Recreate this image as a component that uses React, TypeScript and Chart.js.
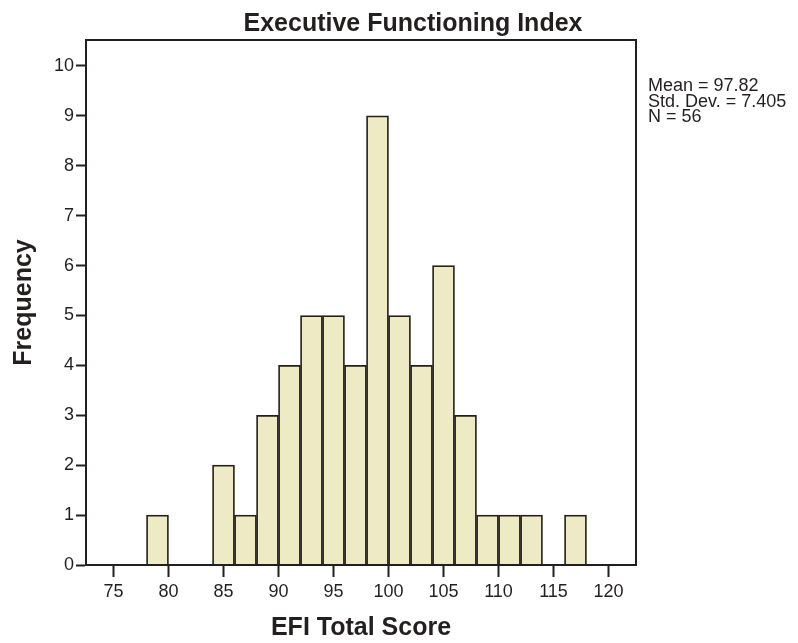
import React, { useEffect, useRef } from 'react';
import { Chart, registerables } from 'chart.js';

Chart.register(...registerables);

const binCenters = [79, 85, 87, 89, 91, 93, 95, 97, 99, 101, 103, 105, 107, 109, 111, 113, 117];
const frequencies = [1, 2, 1, 3, 4, 5, 5, 4, 9, 5, 4, 6, 3, 1, 1, 1, 1];
const xTickValues = [75, 80, 85, 90, 95, 100, 105, 110, 115, 120];
const yTickValues = [0, 1, 2, 3, 4, 5, 6, 7, 8, 9, 10];
const chartTitle = 'Executive Functioning Index';
const xAxisTitle = 'EFI Total Score';
const yAxisTitle = 'Frequency';
const statsLines = ['Mean = 97.82', 'Std. Dev. = 7.405', 'N = 56'];
const xMin = 72.5;
const xMax = 122.5;
const yMin = 0;
const yMax = 10.52;

const FONT = "'Liberation Sans', Arial, Helvetica, sans-serif";
const INK = '#231f1f';
const FILL = '#eeebc4';

const decorPlugin = {
  id: 'decor',
  afterDraw(chart: any) {
    const { ctx, chartArea } = chart;
    const { left, right, top, bottom } = chartArea;
    ctx.save();
    ctx.strokeStyle = INK;
    ctx.lineWidth = 2;
    ctx.strokeRect(left, top, right - left, bottom - top);

    ctx.fillStyle = INK;
    ctx.font = `bold 25px ${FONT}`;
    ctx.textAlign = 'center';
    ctx.textBaseline = 'alphabetic';
    ctx.fillText(chartTitle, (left + right) / 2 + 52, top - 9);

    ctx.font = `18px ${FONT}`;
    ctx.textAlign = 'left';
    statsLines.forEach((line, i) => {
      ctx.fillText(line, right + 12, top + 51 + i * 15.5);
    });
    ctx.restore();
  },
};

export default function App() {
  const canvasRef = useRef<HTMLCanvasElement | null>(null);

  useEffect(() => {
    const canvas = canvasRef.current;
    if (!canvas) return;
    const chart = new Chart(canvas, {
      type: 'bar',
      data: {
        datasets: [
          {
            data: binCenters.map((x, i) => ({ x, y: frequencies[i] })),
            backgroundColor: FILL,
            borderColor: INK,
            borderWidth: 1.75,
            barPercentage: 1,
            categoryPercentage: 1,
          },
        ],
      },
      options: {
        animation: false,
        responsive: true,
        maintainAspectRatio: false,
        layout: { padding: { top: 40, right: 162, left: 0, bottom: 0 } },
        plugins: {
          legend: { display: false },
          tooltip: { enabled: false },
          title: { display: false },
        },
        scales: {
          x: {
            type: 'linear',
            min: xMin,
            max: xMax,
            offset: false,
            afterBuildTicks: (scale: any) => {
              scale.ticks = xTickValues.map((v) => ({ value: v }));
            },
            afterFit: (scale: any) => {
              scale.height = 78;
            },
            grid: {
              display: true,
              drawOnChartArea: false,
              offset: false,
              drawTicks: true,
              tickLength: 12,
              tickWidth: 2,
              tickColor: INK,
            },
            border: { display: true, color: INK, width: 2 },
            ticks: {
              color: INK,
              font: { family: FONT, size: 18 },
              padding: 4,
              maxRotation: 0,
              autoSkip: false,
            },
            title: {
              display: true,
              text: xAxisTitle,
              color: INK,
              font: { family: FONT, size: 25, weight: 'bold' },
              padding: { top: 0, bottom: 0 },
            },
          },
          y: {
            type: 'linear',
            min: yMin,
            max: yMax,
            afterBuildTicks: (scale: any) => {
              scale.ticks = yTickValues.map((v) => ({ value: v }));
            },
            afterFit: (scale: any) => {
              scale.width = 86;
            },
            grid: {
              display: true,
              drawOnChartArea: false,
              drawTicks: true,
              tickLength: 10,
              tickWidth: 2,
              tickColor: INK,
            },
            border: { display: true, color: INK, width: 2 },
            ticks: {
              color: INK,
              font: { family: FONT, size: 18 },
              padding: 2,
              autoSkip: false,
            },
            title: {
              display: true,
              text: yAxisTitle,
              color: INK,
              font: { family: FONT, size: 25, weight: 'bold' },
              padding: { top: 9, bottom: 0 },
            },
          },
        },
      } as any,
      plugins: [decorPlugin],
    });
    return () => chart.destroy();
  }, []);

  return (
    <div style={{ position: 'fixed', left: 0, top: 0, width: '798px', height: '643px', background: '#fff' }}>
      <canvas ref={canvasRef} />
    </div>
  );
}
